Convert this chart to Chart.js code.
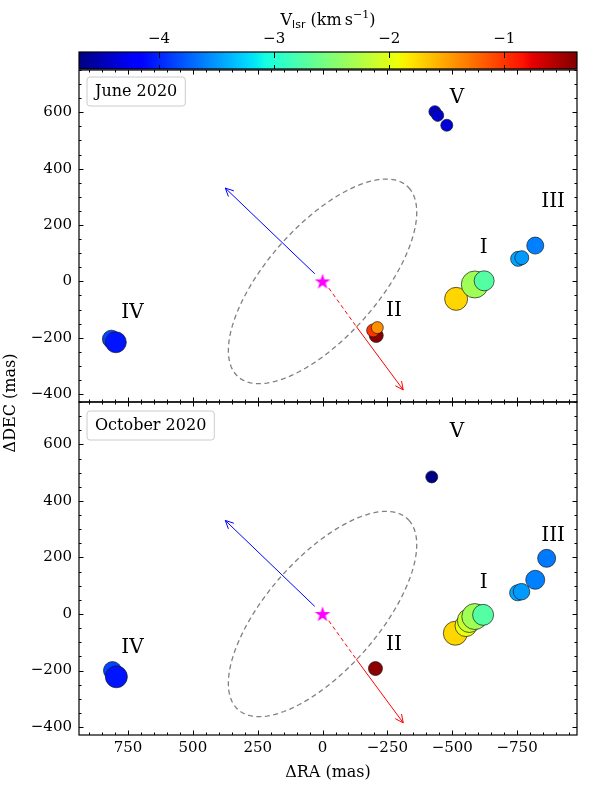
<!DOCTYPE html>
<html>
<head>
<meta charset="utf-8">
<script src="https://cdn.jsdelivr.net/npm/chart.js@4.4.1/dist/chart.umd.min.js"></script>
<style>
  html, body { margin: 0; padding: 0; background: #fff; }
  #wrap { position: relative; width: 600px; height: 800px; }
  #wrap canvas { position: absolute; left: 0; top: 0; }
</style>
</head>
<body>
<div id="wrap">
  <canvas id="cbar" width="600" height="800"></canvas>
  <canvas id="panelJun" width="600" height="800"></canvas>
  <canvas id="panelOct" width="600" height="800"></canvas>
</div>
<script>
// June 2020: offsets (mas), Vlsr (km/s), marker radius
const junRA   = [-433, -444, -479, -820, -754, -768, -515, -587, -623, -207, -195, -211, 814, 797];
const junDEC  = [602, 589, 554, 127, 80, 84, -62, -11, 2, -192, -174, -164, -205, -216];
const junV    = [-4.41, -4.41, -4.36, -3.61, -3.45, -3.50, -1.74, -2.34, -2.74, -0.40, -0.99, -1.41, -3.86, -4.07];
const junSize = [6, 6, 6, 8.5, 7.5, 7, 11.5, 13.5, 10, 7, 6.5, 6, 9, 10.5];

// October 2020
const octRA   = [-421, -864, -820, -752, -767, -512, -553, -566, -587, -619, -204, 810, 795];
const octDEC  = [485, 197, 121, 75, 79, -68, -41, -23, -9, -3, -193, -200, -222];
const octV    = [-4.67, -3.64, -3.61, -3.45, -3.50, -1.74, -1.95, -2.13, -2.34, -2.74, -0.42, -3.86, -4.07];
const octSize = [6, 9, 9.5, 8, 8.3, 12, 11, 12, 13, 10.5, 7, 9, 11];

// axes
const raMin = -981, raMax = 939;
const decMin = -428, decMax = 750;
const cbMin = -4.696, cbMax = -0.368;
const raTicks = [750, 500, 250, 0, -250, -500, -750];
const decTicks = [-400, -200, 0, 200, 400, 600];
const vTicks = [-4, -3, -2, -1];

// group labels
const junTags = [
  {text: 'V', x: -518, y: 653}, {text: 'III', x: -889, y: 283}, {text: 'I', x: -621, y: 119},
  {text: 'II', x: -275, y: -105}, {text: 'IV', x: 733, y: -111}
];
const octTags = [
  {text: 'V', x: -518, y: 643}, {text: 'III', x: -889, y: 275}, {text: 'I', x: -621, y: 111},
  {text: 'II', x: -275, y: -108}, {text: 'IV', x: 733, y: -119}
];

// ellipse and arrows (mas)
const ellA = 470, ellB = 207, ellAngle = 135;
const blueArrow = [[30, 27], [375, 331]];
const redDash = [[-24, -24], [-130, -160]];
const redArrow = [[-130, -160], [-311, -385]];

const SERIF = '"DejaVu Serif"';

// jet colormap
const jetR = [[0, 0], [0.35, 0], [0.66, 1], [0.89, 1], [1, 0.5]];
const jetG = [[0, 0], [0.125, 0], [0.375, 1], [0.64, 1], [0.91, 0], [1, 0]];
const jetB = [[0, 0.5], [0.11, 1], [0.34, 1], [0.65, 0], [1, 0]];
function seg(s, t) {
  for (let i = 1; i < s.length; i++) {
    if (t <= s[i][0]) {
      const f = (t - s[i - 1][0]) / (s[i][0] - s[i - 1][0]);
      return s[i - 1][1] + f * (s[i][1] - s[i - 1][1]);
    }
  }
  return s[s.length - 1][1];
}
function jetAt(t) {
  t = Math.min(1, Math.max(0, t));
  return 'rgb(' + [jetR, jetG, jetB].map(s => Math.round(seg(s, t) * 255)).join(',') + ')';
}
function jetColor(v) { return jetAt((v - cbMin) / (cbMax - cbMin)); }

function fmt(v) { return v < 0 ? '\u2212' + Math.abs(v) : String(v); }

Chart.defaults.font.family = SERIF;
Chart.defaults.font.size = 15;
Chart.defaults.color = '#000';
Chart.defaults.animation = false;
Chart.defaults.plugins.legend.display = false;
Chart.defaults.plugins.tooltip.enabled = false;

// filled magenta star marker
const starImg = document.createElement('canvas');
starImg.width = 20; starImg.height = 20;
const sctx = starImg.getContext('2d');
sctx.fillStyle = '#ff00ff';
sctx.beginPath();
for (let k = 0; k < 10; k++) {
  const r = k % 2 ? 3.2 : 8.2;
  const ang = -Math.PI / 2 + k * Math.PI / 5;
  sctx.lineTo(10 + r * Math.cos(ang), 10.5 + r * Math.sin(ang));
}
sctx.closePath();
sctx.fill();

function ellipsePts() {
  const th = ellAngle * Math.PI / 180, pts = [];
  for (let k = 0; k <= 180; k++) {
    const t = k / 180 * 2 * Math.PI;
    pts.push({
      x: ellA * Math.cos(t) * Math.cos(th) - ellB * Math.sin(t) * Math.sin(th),
      y: ellA * Math.cos(t) * Math.sin(th) + ellB * Math.sin(t) * Math.cos(th)
    });
  }
  return pts;
}
const toXY = arr => arr.map(p => ({x: p[0], y: p[1]}));

// inward ticks, frame, labels, box
const panelDecor = {
  id: 'panelDecor',
  afterDatasetsDraw(chart, args, opts) {
    const {ctx, chartArea: a, scales: {x, y}} = chart;
    ctx.save();
    chart.data.datasets.forEach((ds, i) => {
      if (!ds.arrow) return;
      const pts = chart.getDatasetMeta(i).data;
      const p1 = pts[pts.length - 2], p2 = pts[pts.length - 1];
      const ang = Math.atan2(p2.y - p1.y, p2.x - p1.x);
      ctx.strokeStyle = ds.borderColor;
      ctx.lineWidth = 1;
      ctx.setLineDash([]);
      ctx.beginPath();
      ctx.moveTo(p2.x - 9 * Math.cos(ang - 0.45), p2.y - 9 * Math.sin(ang - 0.45));
      ctx.lineTo(p2.x, p2.y);
      ctx.lineTo(p2.x - 9 * Math.cos(ang + 0.45), p2.y - 9 * Math.sin(ang + 0.45));
      ctx.stroke();
    });
    ctx.fillStyle = '#000';
    ctx.font = '20px ' + SERIF;
    ctx.textAlign = 'center';
    ctx.textBaseline = 'middle';
    opts.tags.forEach(t => ctx.fillText(t.text, x.getPixelForValue(t.x), y.getPixelForValue(t.y)));

    // panel label box
    ctx.font = '16px ' + SERIF;
    const w = ctx.measureText(opts.box).width + 16;
    const bx = a.left + 8, by = a.top + opts.boxTop;
    ctx.beginPath();
    ctx.roundRect(bx, by, w, 29, 3);
    ctx.fillStyle = 'rgba(255,255,255,0.8)';
    ctx.fill();
    ctx.strokeStyle = '#cccccc';
    ctx.lineWidth = 1;
    ctx.stroke();
    ctx.fillStyle = '#000';
    ctx.textAlign = 'left';
    ctx.fillText(opts.box, bx + 8, by + 15);
    ctx.restore();
  },
  afterDraw(chart, args, opts) {
    const {ctx, chartArea: a, scales: {x, y}} = chart;
    ctx.save();
    ctx.strokeStyle = '#000';
    ctx.lineWidth = 1;
    ctx.beginPath();
    for (let v = Math.ceil(raMin / 50) * 50; v <= raMax; v += 50) {
      const px = Math.round(x.getPixelForValue(v)) + 0.5;
      const len = v % 250 === 0 ? 4.5 : 2.5;
      ctx.moveTo(px, a.bottom); ctx.lineTo(px, a.bottom - len);
      ctx.moveTo(px, a.top); ctx.lineTo(px, a.top + len);
    }
    for (let v = Math.ceil(decMin / 50) * 50; v <= decMax; v += 50) {
      const py = Math.round(y.getPixelForValue(v)) + 0.5;
      const len = v % 200 === 0 ? 4.5 : 2.5;
      ctx.moveTo(a.left, py); ctx.lineTo(a.left + len, py);
      ctx.moveTo(a.right, py); ctx.lineTo(a.right - len, py);
    }
    ctx.stroke();
    ctx.lineWidth = 1.2;
    ctx.strokeRect(a.left, a.top, a.right - a.left, a.bottom - a.top);
    if (opts.yTitle) {
      ctx.translate(11, 403);
      ctx.rotate(-Math.PI / 2);
      ctx.font = '16px ' + SERIF;
      ctx.fillStyle = '#000';
      ctx.textAlign = 'center';
      ctx.textBaseline = 'middle';
      ctx.fillText(opts.yTitle, 0, 0);
    }
    ctx.restore();
  }
};

function makePanel(id, ra, dec, vel, size, tags, box, bottom) {
  const datasets = [
    {
      data: ra.map((v, i) => ({x: v, y: dec[i]})),
      pointBackgroundColor: vel.map(jetColor),
      pointRadius: size,
      pointBorderColor: '#1a1a1a',
      pointBorderWidth: 0.7,
      order: 0
    },
    {data: [{x: 0, y: 0}], pointStyle: starImg, pointRadius: 8, order: 1},
    {data: toXY(blueArrow), showLine: true, pointRadius: 0, borderColor: '#0000ff', borderWidth: 1, arrow: true, order: 2},
    {data: toXY(redDash), showLine: true, pointRadius: 0, borderColor: '#ff0000', borderWidth: 1, borderDash: [4, 3], order: 2},
    {data: toXY(redArrow), showLine: true, pointRadius: 0, borderColor: '#ff0000', borderWidth: 1, arrow: true, order: 2},
    {data: ellipsePts(), showLine: true, pointRadius: 0, borderColor: '#808080', borderWidth: 1.3, borderDash: [5, 3.5], order: 3}
  ];
  return new Chart(document.getElementById(id), {
    type: 'scatter',
    data: {datasets},
    options: {
      responsive: false,
      devicePixelRatio: 1,
      layout: {padding: bottom ? {top: 402, bottom: 0, left: 0, right: 23} : {top: 70, bottom: 398, left: 0, right: 23}},
      scales: {
        x: {
          type: 'linear', min: raMin, max: raMax, reverse: true, display: bottom,
          afterBuildTicks: s => { s.ticks = raTicks.map(v => ({value: v})); },
          afterFit: s => { s.height = bottom ? 65 : 0; },
          grid: {display: false, drawTicks: false},
          border: {display: false},
          ticks: {padding: 4, maxRotation: 0, autoSkip: false, font: {family: SERIF, size: 15}, callback: v => fmt(v)},
          title: {display: true, text: '\u0394RA (mas)', font: {family: SERIF, size: 16}, padding: {top: 0, bottom: 18}}
        },
        y: {
          type: 'linear', min: decMin, max: decMax,
          afterBuildTicks: s => { s.ticks = decTicks.map(v => ({value: v})); },
          afterFit: s => { s.width = 79; },
          grid: {display: false, drawTicks: false},
          border: {display: false},
          ticks: {padding: 7, autoSkip: false, font: {family: SERIF, size: 15}, callback: v => fmt(v)}
        }
      },
      plugins: {
        panelDecor: {tags, box, boxTop: bottom ? 9 : 7, yTitle: bottom ? '\u0394DEC (mas)' : null}
      }
    },
    plugins: [panelDecor]
  });
}

// colour bar
const cbarDecor = {
  id: 'cbarDecor',
  beforeDraw(chart) {
    const {ctx, chartArea: a, scales: {x}} = chart;
    ctx.save();
    const g = ctx.createLinearGradient(a.left, 0, a.right, 0);
    [0, 0.11, 0.125, 0.34, 0.35, 0.375, 0.64, 0.65, 0.66, 0.89, 0.91, 1].forEach(t => g.addColorStop(t, jetAt(t)));
    ctx.fillStyle = g;
    ctx.fillRect(a.left, a.top, a.right - a.left, a.bottom - a.top);
    ctx.strokeStyle = '#000';
    ctx.lineWidth = 1;
    ctx.beginPath();
    vTicks.forEach(v => {
      const px = Math.round(x.getPixelForValue(v)) + 0.5;
      ctx.moveTo(px, a.top); ctx.lineTo(px, a.top + 6);
      ctx.moveTo(px, a.bottom); ctx.lineTo(px, a.bottom - 4);
    });
    ctx.stroke();
    ctx.lineWidth = 1.2;
    ctx.strokeRect(a.left, a.top, a.right - a.left, a.bottom - a.top);

    // title: V_lsr (km s^-1)
    const parts = [
      {t: 'V', f: '16px ' + SERIF, dy: 0},
      {t: 'lsr', f: '11px "DejaVu Sans"', dy: 3},
      {t: ' (km\u2009s', f: '16px ' + SERIF, dy: 0},
      {t: '\u22121', f: '11px ' + SERIF, dy: -7},
      {t: ')', f: '16px ' + SERIF, dy: 0}
    ];
    let total = 0;
    parts.forEach(p => { ctx.font = p.f; p.w = ctx.measureText(p.t).width; total += p.w; });
    let cx = (a.left + a.right) / 2 - total / 2;
    ctx.fillStyle = '#000';
    ctx.textBaseline = 'alphabetic';
    ctx.textAlign = 'left';
    parts.forEach(p => { ctx.font = p.f; ctx.fillText(p.t, cx, 25 + p.dy); cx += p.w; });
    ctx.restore();
  }
};

new Chart(document.getElementById('cbar'), {
  type: 'scatter',
  data: {datasets: []},
  options: {
    responsive: false,
    devicePixelRatio: 1,
    layout: {padding: {top: 0, bottom: 731, left: 79, right: 23}},
    scales: {
      x: {
        type: 'linear', position: 'top', min: cbMin, max: cbMax,
        afterBuildTicks: s => { s.ticks = vTicks.map(v => ({value: v})); },
        afterFit: s => { s.height = 52; },
        grid: {display: false, drawTicks: false},
        border: {display: false},
        ticks: {padding: 4, maxRotation: 0, autoSkip: false, font: {family: SERIF, size: 15}, callback: v => fmt(v)}
      },
      y: {display: false, min: 0, max: 1}
    }
  },
  plugins: [cbarDecor]
});

makePanel('panelJun', junRA, junDEC, junV, junSize, junTags, 'June 2020', false);
makePanel('panelOct', octRA, octDEC, octV, octSize, octTags, 'October 2020', true);
</script>
</body>
</html>
